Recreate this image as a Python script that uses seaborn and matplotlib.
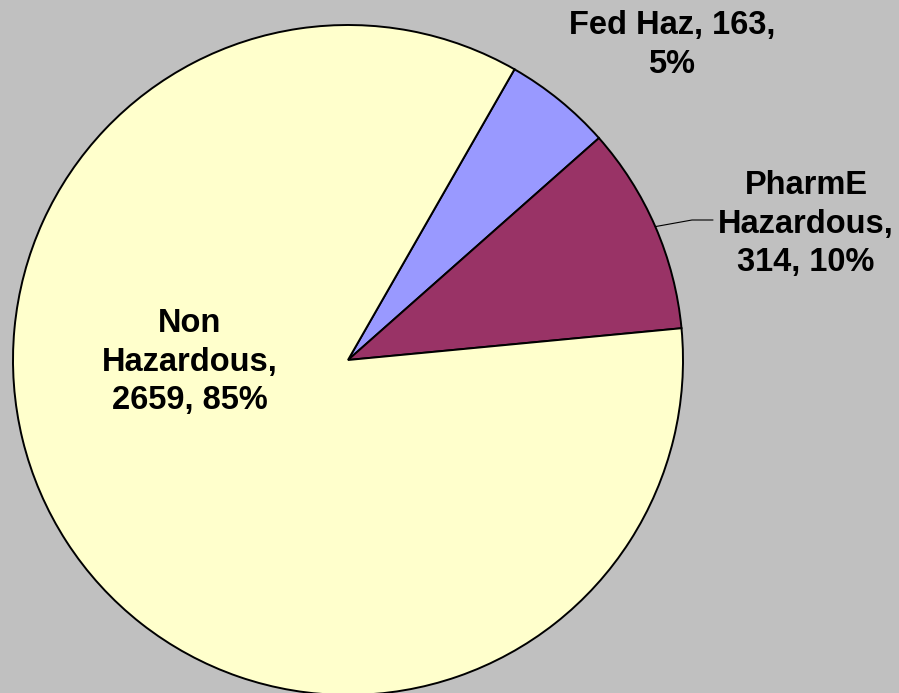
import matplotlib
matplotlib.use("Agg")
import matplotlib.pyplot as plt
import seaborn as sns
import numpy as np

# data
categories = ["Fed Haz", "PharmE Hazardous", "Non Hazardous"]
values = [163, 314, 2659]
colors = ["#9999FF", "#993366", "#FFFFCC"]

sns.set_theme(style="white")
plt.rcParams["font.family"] = ["Liberation Sans", "DejaVu Sans"]

W, H = 899, 693
fig = plt.figure(figsize=(W / 100, H / 100), dpi=100, facecolor="#C0C0C0")
ax = fig.add_axes([0, 0, 1, 1])
ax.set_facecolor("#C0C0C0")

cx, cy, r = 348, H - 360, 335

wedges, _ = ax.pie(
    values,
    colors=colors,
    startangle=60.2,
    counterclock=False,
    center=(cx, cy),
    radius=r,
    frame=True,
    wedgeprops=dict(edgecolor="black", linewidth=1.4),
)

ax.set_xlim(0, W)
ax.set_ylim(0, H)
ax.set_aspect("equal")
ax.axis("off")

total = sum(values)
pcts = [round(v / total * 100) for v in values]

labels = [
    f"Fed Haz, {values[0]},\n{pcts[0]}%",
    f"PharmE\nHazardous,\n{values[1]}, {pcts[1]}%",
    f"Non\nHazardous,\n{values[2]}, {pcts[2]}%",
]
label_pos = [(672, 45), (806, 224), (190, 362)]

for lab, (x, y) in zip(labels, label_pos):
    ax.text(
        x, H - y, lab,
        ha="center", va="center",
        fontsize=23.5, fontweight="bold",
        linespacing=1.33, color="black",
    )

# leader line for PharmE
w = wedges[1]
mid = np.deg2rad((w.theta1 + w.theta2) / 2)
x0 = cx + r * np.cos(mid)
y0 = cy + r * np.sin(mid)
ax.plot([x0, 692, 713], [y0, H - 220, H - 220], color="black", linewidth=0.8)

fig.savefig("out.png", dpi=100, facecolor="#C0C0C0")
